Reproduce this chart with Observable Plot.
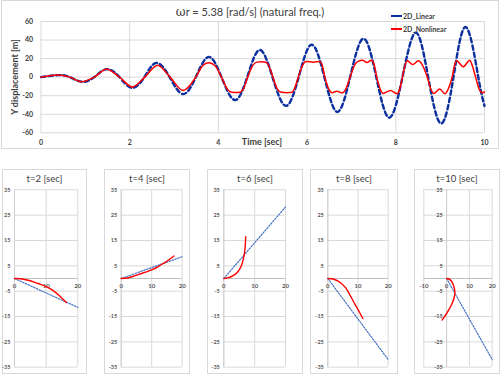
<!DOCTYPE html>
<html><head><meta charset="utf-8">
<script src="https://cdn.jsdelivr.net/npm/d3@7"></script>
<script src="https://cdn.jsdelivr.net/npm/@observablehq/plot@0.6"></script>
<style>
body{margin:0;background:#fff;font-family:Lato,"Open Sans",sans-serif;}
#wrap{position:relative;width:500px;height:374px;overflow:hidden;background:#fff;}
.box{position:absolute;border:1px solid #d9d9d9;box-sizing:border-box;}
.abs{position:absolute;left:0;top:0;}
.t{position:absolute;white-space:nowrap;color:#404040;line-height:1;}
</style></head><body><div id="wrap"></div>
<script>
// ---- top chart data (time [s], Y displacement [m]) ----
const linTime = [0,0.39,0.65,0.92,1.2,1.48,1.77,2.05,2.33,2.6,2.9,3.2,3.49,3.78,4.07,4.37,4.65,4.93,5.22,5.52,5.81,6.1,6.39,6.68,6.97,7.27,7.56,7.85,8.15,8.45,8.73,9.02,9.3,9.58,9.86,10];
const linDisp = [0,2.2,0,-5,0,8.6,0,-11.5,0,15.4,0,-18.3,0,21.8,0,-24.7,0,29.3,0,-31,0,35,0,-37.5,0,41.5,0,-43.7,0,48,0,-50,0,54,0,-31];
const nonTime = [0,0.39,0.65,0.92,1.2,1.48,1.77,2.06,2.34,2.63,2.91,3.2,3.49,3.64,3.78,3.93,4.07,4.21,4.3,4.4,4.5,4.56,4.66,4.78,4.87,4.97,5.07,5.13,5.23,5.33,5.42,5.55,5.66,5.71,5.8,5.9,5.98,6.14,6.29,6.34,6.4,6.49,6.56,6.67,6.8,6.87,6.97,7.07,7.15,7.25,7.35,7.45,7.51,7.57,7.65,7.71,7.88,8.03,8.08,8.15,8.21,8.26,8.38,8.51,8.6,8.71,8.79,8.86,8.99,9.11,9.18,9.27,9.32,9.37,9.52,9.67,9.72,9.8,9.88,9.95,10];
const nonDisp = [0,2.2,0,-5,0,8.4,0,-10.5,0,12.9,0,-14.3,0,12,15.4,12,0,-13.5,-16.2,-16.6,-16,-13,0,13,16.2,16.5,16,13,0,-13,-16.4,-16.8,-16.3,-13,0,13,16.8,16.2,16.8,13,0,-13,-16.8,-15.2,-17,-13,0,13,17,18.2,15.8,18.2,14,0,-13,-17.5,-14.3,-17.8,-14,0,13,17.6,13.6,17.6,13,0,-13,-17.6,-12.9,-17.8,-13,0,12,17.6,11.2,18.3,13,0,-13,-16.8,-16];
const topXTicks = [0,2,4,6,8,10];
const topYTicks = [-60,-40,-20,0,20,40,60];
const seriesNames = ["2D_Linear","2D_Nonlinear"];
const titleText = "r = 5.38 [rad/s] (natural freq.)";
const xLabel = "Time [sec]";
const yLabel = "Y displacement [m]";

// ---- snapshot panels (horizontal position, vertical position) ----
const panelTitles = ["t=2 [sec]","t=4 [sec]","t=6 [sec]","t=8 [sec]","t=10 [sec]"];
const panelYTicks = [35,25,15,5,-5,-15,-25,-35];
const panelXTicks = [[0,10,20],[0,10,20],[0,10,20],[0,10,20],[-10,0,10,20]];
const p1LinX = [0,20], p1LinY = [0,-11.4];
const p1NonX = [0,2,4,6,8,10,12,14,16.4];
const p1NonY = [0,-0.1,-0.6,-1.3,-2.2,-3.2,-4.6,-6.6,-9.5];
const p2LinX = [0,20], p2LinY = [0,8.6];
const p2NonX = [0,2,4,6,8,10,12,14,16,17.3];
const p2NonY = [0,0.2,0.9,1.7,2.5,3.4,4.6,6.1,7.7,8.9];
const p3LinX = [0,20], p3LinY = [0,28.2];
const p3NonX = [0,1,2,3,4,5,5.8,6.4,6.8,7.0,7.1];
const p3NonY = [0,0.2,0.5,1.1,2,3.4,5.3,8,11,14,16.5];
const p4LinX = [0,20], p4LinY = [0,-32];
const p4NonX = [0,2,4,6,8,10,11.6];
const p4NonY = [0,-0.3,-1.5,-3.8,-8,-12.3,-15.7];
const p5LinX = [0,20], p5LinY = [0,-32];
const p5NonX = [0,1,2,3,3.6,3.4,2.6,1.2,-0.4,-2];
const p5NonY = [0,-0.2,-0.9,-2.6,-5,-7.2,-9.5,-12,-14.4,-16.4];

const panelLin = [[p1LinX,p1LinY],[p2LinX,p2LinY],[p3LinX,p3LinY],[p4LinX,p4LinY],[p5LinX,p5LinY]];
const panelNon = [[p1NonX,p1NonY],[p2NonX,p2NonY],[p3NonX,p3NonY],[p4NonX,p4NonY],[p5NonX,p5NonY]];

// ---- layout ----
const FONT = "Lato, 'Open Sans', sans-serif";
const BLUE_TOP = "#0a2f9e", BLUE_P = "#4472c4", RED = "#ff0000", GRID = "#d9d9d9";
const wrap = document.getElementById("wrap");
function addBox(l,t,w,h){const d=document.createElement("div");d.className="box";Object.assign(d.style,{left:l+"px",top:t+"px",width:w+"px",height:h+"px"});wrap.appendChild(d);}
function addText(txt,css){const d=document.createElement("div");d.className="t";d.textContent=txt;Object.assign(d.style,css);wrap.appendChild(d);return d;}
function place(svg,l,t){const h=document.createElement("div");h.className="abs";h.style.left=l+"px";h.style.top=t+"px";h.appendChild(svg);wrap.appendChild(h);}

// top chart
addBox(1,0,498,149);
const zip = (a,b)=>a.map((v,i)=>({t:v,v:b[i]}));
const topPlot = Plot.plot({
  width: 500, height: 150,
  marginLeft: 40.5, marginRight: 16, marginTop: 21, marginBottom: 17.7,
  x: {domain:[0,10], axis: null}, y: {domain:[-60,60], axis: null},
  style: {fontFamily: FONT, background: "transparent", color:"#404040"},
  marks: [
    Plot.gridX(topXTicks, {stroke: GRID, strokeOpacity: 1}),
    Plot.gridY(topYTicks, {stroke: GRID, strokeOpacity: 1}),
    Plot.axisX(topXTicks, {tickSize: 0, tickPadding: 7, fontSize: 7, fontWeight: "bold", label: null, tickFormat: d=>d}),
    Plot.axisY(topYTicks, {tickSize: 0, tickPadding: 8, fontSize: 7, fontWeight: "bold", label: null, tickFormat: d=>d}),
    Plot.line(zip(linTime,linDisp), {x:"t", y:"v", stroke: BLUE_TOP, strokeWidth: 2.4, strokeDasharray: "4.5,3", curve: "natural"}),
    Plot.line(zip(nonTime,nonDisp), {x:"t", y:"v", stroke: RED, strokeWidth: 1.5, curve: "monotone-x"})
  ]
});
place(topPlot,0,0);
const tt = addText("", {left:"0px", width:"500px", textAlign:"center", top:"6px", fontSize:"11px", color:"#404040"});
tt.innerHTML = '<span style="font-family:\'DejaVu Serif\',serif;font-size:12px">ω</span>' + titleText;
addText(xLabel, {left:"222px", width:"80px", textAlign:"center", top:"137px", fontSize:"9px", fontWeight:"bold", color:"#404040"});
addText(yLabel, {left:"-25px", width:"80px", textAlign:"center", top:"72px", fontSize:"9px", fontWeight:"bold", color:"#404040", transform:"rotate(-90deg)", transformOrigin:"40px 5px"});
// legend
const lg1 = document.createElement("div"); Object.assign(lg1.style,{position:"absolute",left:"391px",top:"15px",width:"11px",height:"0",borderTop:"2.2px dashed "+BLUE_TOP}); wrap.appendChild(lg1);
const lg2 = document.createElement("div"); Object.assign(lg2.style,{position:"absolute",left:"391px",top:"28px",width:"11px",height:"0",borderTop:"2px solid "+RED}); wrap.appendChild(lg2);
addText(seriesNames[0], {left:"403px", top:"12.5px", fontSize:"7px", fontWeight:"bold", color:"#404040"});
addText(seriesNames[1], {left:"403px", top:"25.5px", fontSize:"7px", fontWeight:"bold", color:"#404040"});

// panels
const boxL = [2,104,207,310,414], boxR = [87,190,303,398,500];
const px0 = [14,120.7,223.3,327.3,423.3], px1 = [77.3,181.7,285,387.7,491.7];
const boxTop = 169, boxH = 205, py0 = 189.3, py1 = 366.7;
for (let i=0;i<5;i++){
  const w = boxR[i]-boxL[i];
  addBox(boxL[i], boxTop, w, boxH);
  const xt = panelXTicks[i];
  const p = Plot.plot({
    width: w, height: boxH,
    marginLeft: px0[i]-boxL[i], marginRight: boxR[i]-px1[i], marginTop: py0-boxTop, marginBottom: boxTop+boxH-py1,
    x: {domain:[xt[0], 20], axis: null}, y: {domain:[-35,35], axis: null},
    style: {fontFamily: FONT, background:"transparent"},
    marks: [
      Plot.gridY(panelYTicks, {stroke: GRID, strokeOpacity: 1}),
      Plot.gridX(xt, {stroke: GRID, strokeOpacity: 1}),
      Plot.ruleY([0], {stroke: "#bfbfbf"}),
      Plot.ruleX([0], {stroke: "#d0d0d0"}),
      Plot.text(panelYTicks, {x: 0, y: d=>d, text: d=>String(d), textAnchor: "end", dx: -4, fontSize: 5.5, fontWeight: "bold", fill: "#595959"}),
      Plot.text(xt, {x: d=>d, y: 0, text: d=>String(d), dy: 8, fontSize: 6, fontWeight: "bold", fill: "#595959"}),
      Plot.line(panelLin[i][0].map((v,j)=>({x:v,y:panelLin[i][1][j]})), {x:"x", y:"y", stroke: BLUE_P, strokeWidth: 1.2, strokeDasharray: "1.5,1.5"}),
      Plot.line(panelNon[i][0].map((v,j)=>({x:v,y:panelNon[i][1][j]})), {x:"x", y:"y", stroke: RED, strokeWidth: 1.4, curve: "catmull-rom"})
    ]
  });
  place(p, boxL[i], boxTop);
  addText(panelTitles[i], {left: boxL[i]+"px", width: w+"px", textAlign:"center", top:"174px", fontSize:"9.5px", color:"#404040"});
}
</script></body></html>
